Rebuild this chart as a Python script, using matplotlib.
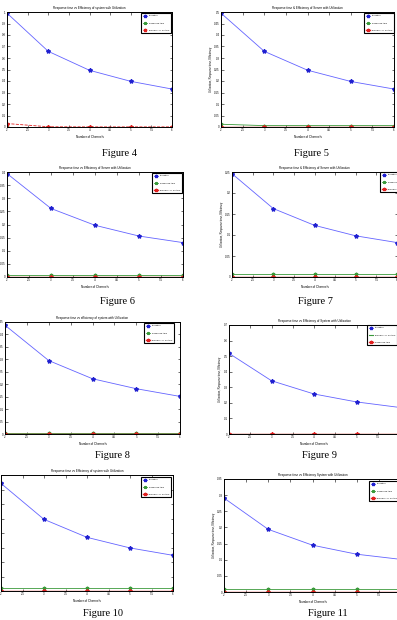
import matplotlib
matplotlib.use("Agg")
import matplotlib.pyplot as plt
import numpy as np
from matplotlib.ticker import FormatStrFormatter

plt.rcParams["font.family"] = ["Liberation Sans", "DejaVu Sans"]

# data
channels = [2, 3, 4, 5, 6]
x_ticks = [2, 2.5, 3, 3.5, 4, 4.5, 5, 5.5, 6]

util_4 = [0.990, 0.658, 0.493, 0.397, 0.330]
resp_4 = [0.004, 0.004, 0.004, 0.004, 0.004]
eff_4 = [0.030, 0.002, 0.001, 0.001, 0.001]

util_5 = [0.495, 0.329, 0.247, 0.198, 0.165]
resp_5 = [0.012, 0.006, 0.006, 0.006, 0.006]
eff_5 = [0.001, 0.001, 0.001, 0.001, 0.001]

util_6 = [0.394, 0.261, 0.197, 0.156, 0.131]
resp_6 = [0.009, 0.009, 0.009, 0.009, 0.009]
eff_6 = [0.001, 0.001, 0.001, 0.001, 0.001]

util_7 = [0.246, 0.163, 0.123, 0.098, 0.082]
resp_7 = [0.007, 0.007, 0.007, 0.007, 0.007]
eff_7 = [0.001, 0.001, 0.001, 0.001, 0.001]

util_8 = [0.437, 0.295, 0.222, 0.182, 0.151]
resp_8 = [0.003, 0.003, 0.003, 0.003, 0.003]
eff_8 = [0.001, 0.001, 0.001, 0.001, 0.001]

util_9 = [0.518, 0.342, 0.257, 0.206, 0.171]
eff_9 = [0.002, 0.002, 0.002, 0.002, 0.002]
resp_9 = [0.001, 0.001, 0.001, 0.001, 0.001]

util_10 = [0.742, 0.494, 0.370, 0.297, 0.246]
resp_10 = [0.018, 0.018, 0.018, 0.018, 0.018]
eff_10 = [0.001, 0.001, 0.001, 0.001, 0.001]

util_11 = [0.291, 0.194, 0.145, 0.117, 0.101]
resp_11 = [0.008, 0.008, 0.008, 0.008, 0.008]
eff_11 = [0.001, 0.001, 0.001, 0.001, 0.001]

titles = [
    "Response time vs Efficiency of system with Utilization",
    "Response time & Efficiency of Server with Utilization",
    "Response time vs Efficiency of Server with Utilization",
    "Response time & Efficiency of Server with Utilization",
    "Response time vs efficiency of system with Utilization",
    "Response time vs Efficiency of System with Utilization",
    "Response time vs Efficiency of system with Utilization",
    "Response time vs Efficiency System with Utilization",
]
captions = ["Figure 4", "Figure 5", "Figure 6", "Figure 7",
            "Figure 8", "Figure 9", "Figure 10", "Figure 11"]
y_max = [1.0, 0.5, 0.4, 0.25, 0.45, 0.7, 0.8, 0.35]
y_step = [0.1, 0.05, 0.05, 0.05, 0.05, 0.1, 0.1, 0.05]

W, H = 397, 620
fig = plt.figure(figsize=(W / 100, H / 100), dpi=100)

# axes boxes in pixels: left, right, top, bottom
boxes = [(7, 172, 12, 127), (221, 394, 12, 127),
         (7, 183, 172, 277), (232, 397, 172, 277),
         (5, 180, 322, 434), (229, 399, 325, 434),
         (1, 173, 475, 591), (224, 401, 479, 592)]
legend_pos = [(141, 13), (364, 13), (152, 173), (380, 172),
              (144, 323), (367, 325), (141, 477), (369, 481)]
caption_pos = [(119, 153), (312, 153), (117, 302), (315, 302),
               (112, 456), (320, 456), (103, 613), (328, 613)]

series = [
    (util_4, resp_4, eff_4), (util_5, resp_5, eff_5),
    (util_6, resp_6, eff_6), (util_7, resp_7, eff_7),
    (util_8, resp_8, eff_8), (util_9, resp_9, eff_9),
    (util_10, resp_10, eff_10), (util_11, resp_11, eff_11),
]

blue = "#6464ff"
green = "#3a9a3a"
red = "#e02020"

for i in range(8):
    l, r, t, b = boxes[i]
    ax = fig.add_axes([l / W, 1 - b / H, (r - l) / W, (b - t) / H])
    util, resp, eff = series[i]
    if i == 5:
        ax.plot(channels, util, "-*", color=blue, mec="#2020d0", lw=0.6, ms=3, label="Utilization")
        ax.plot(channels, eff, "-", color=green, lw=0.8, label="Efficiency of System")
        ax.plot(channels, resp, "-*", color=red, lw=1.0, ms=3, label="Response time")
    else:
        ax.plot(channels, util, "-*", color=blue, mec="#2020d0", lw=0.6, ms=3, label="Utilization")
        ax.plot(channels, resp, "-*", color=green, lw=0.6, ms=2.5, label="Response time")
        if i == 0:
            ax.plot(channels, eff, "--*", color=red, lw=0.6, ms=3, label="Efficiency of System")
        else:
            ax.plot(channels, eff, "-*", color=red, lw=1.0, ms=3, label="Efficiency of System")
    ax.set_xlim(2, 6)
    ax.set_ylim(0, y_max[i])
    ax.set_xticks(x_ticks)
    ax.set_yticks(np.arange(0, y_max[i] + y_step[i] / 2, y_step[i]))
    ax.xaxis.set_major_formatter(FormatStrFormatter("%g"))
    ax.yaxis.set_major_formatter(FormatStrFormatter("%g"))
    ax.tick_params(direction="in", length=1.8, width=0.4, labelsize=2,
                   top=True, right=True, pad=1)
    for s in ax.spines.values():
        s.set_linewidth(0.7)
    ax.set_title(titles[i], fontsize=2.2, pad=2)
    ax.set_xlabel("Number of Channels", fontsize=2.2, labelpad=2)
    ax.set_ylabel("Utilization, Response time, Efficiency", fontsize=2, labelpad=1)
    lx, ly = legend_pos[i]
    leg = ax.legend(loc="upper left", bbox_to_anchor=(lx / W, 1 - ly / H),
                    bbox_transform=fig.transFigure, fontsize=1.6,
                    fancybox=False, edgecolor="black", framealpha=1,
                    handlelength=2, handletextpad=0.8, labelspacing=2.6,
                    borderpad=0.8, borderaxespad=0, markerscale=0.8)
    leg.get_frame().set_linewidth(0.8)
    cx, cy = caption_pos[i]
    fig.text(cx / W, 1 - cy / H, captions[i], ha="center", va="center",
             fontsize=7.5, family="Liberation Serif")

fig.savefig("out.png", dpi=100)
